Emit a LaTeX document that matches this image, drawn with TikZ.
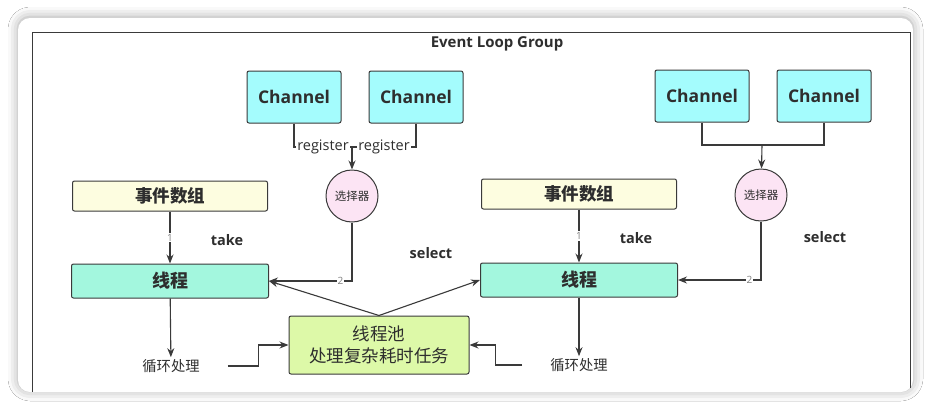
\documentclass[tikz,border=0pt]{standalone}
\usepackage{fontspec}
\setmainfont{Open Sans}
\newfontfamily\cjk{Noto Sans CJK SC}
\usepackage{tikz}
\usepackage{xcolor}
\usetikzlibrary{shapes.geometric}
\usetikzlibrary{positioning}
\usetikzlibrary{arrows.meta}
\usetikzlibrary{shadows.blur}
\definecolor{chancyan}{HTML}{A4FCFD}
\definecolor{arryellow}{HTML}{FDFDE0}
\definecolor{threadgreen}{HTML}{A3F7DE}
\definecolor{selpink}{HTML}{FCE4F4}
\definecolor{poolgreen}{HTML}{DDF9A8}
\definecolor{linegray}{HTML}{3A3A3A}
\definecolor{textgray}{HTML}{2E2E2E}
\tikzstyle{channel} = [rectangle, rounded corners=2pt, minimum width=94pt, minimum height=52pt, text centered, draw=linegray, line width=1pt, fill=chancyan, text=textgray, font=\fontsize{17.5}{20}\selectfont\bfseries]
\tikzstyle{events} = [rectangle, rounded corners=2pt, minimum width=195pt, minimum height=30pt, text centered, draw=linegray, line width=1pt, fill=arryellow, text=textgray, font=\fontsize{17.5}{20}\selectfont\cjk\bfseries]
\tikzstyle{thread} = [rectangle, rounded corners=2pt, minimum width=197pt, minimum height=34pt, text centered, draw=linegray, line width=1pt, fill=threadgreen, text=textgray, font=\fontsize{18}{21}\selectfont\cjk\bfseries]
\tikzstyle{selector} = [circle, minimum size=52pt, inner sep=0pt, draw=linegray, line width=1pt, fill=selpink, text=textgray, font=\fontsize{11.5}{13}\selectfont\cjk]
\tikzstyle{pool} = [rectangle, rounded corners=2pt, minimum width=180pt, minimum height=58pt, align=center, draw=linegray, line width=1pt, fill=poolgreen, text=textgray, font=\fontsize{17.5}{22}\selectfont\cjk]
\tikzstyle{label} = [text=textgray, font=\fontsize{14.5}{16}\selectfont\bfseries]
\tikzstyle{loop} = [inner sep=2pt, text=textgray, font=\fontsize{14.3}{16}\selectfont\cjk]
\tikzstyle{num} = [fill=white, inner sep=1pt, text=black!50, font=\fontsize{10}{11}\selectfont]
\tikzstyle{reg} = [pos=0.75, fill=white, inner sep=1pt, text=textgray, font=\fontsize{14.5}{16}\selectfont]
\tikzstyle{line} = [line width=1.1pt, draw=linegray]
\tikzstyle{arrow} = [line width=1.1pt, draw=linegray, ->, >={Stealth[length=9pt,width=7pt]}]

\begin{document}
\begin{tikzpicture}[x=1pt, y=-1pt]

        \useasboundingbox (0,0) rectangle (934,410);
        \fill[white] (0,0) rectangle (934,410);
        \fill[white, rounded corners=12pt, blur shadow={shadow xshift=0pt, shadow yshift=1pt, shadow blur radius=10pt, shadow opacity=35}] (18,18) rectangle (913,392);
        \draw[linegray, line width=1pt] (32,392) |- (910,32) -- (910,388);
        \node (title) at (497,44) [font=\fontsize{15}{17}\selectfont\bfseries, text=textgray] {Event Loop Group};

        % left group
        \node (ch1) at (294,97) [channel] {Channel};
        \node (ch2) at (416,97) [channel] {Channel};
        \coordinate (regjoin) at (352,147);
        \node (sel1) at (352,196) [selector] {选择器};
        \node (arr1) at (170,196) [events] {事件数组};
        \node (th1) at (170,281) [thread] {线程};
        \node (loop1) at (171,366) [loop] {循环处理};
        \node (take1) at (227,240) [label] {take};
        \node (select1) at (431,253) [label] {select};

        % right group
        \node (ch3) at (702,96) [channel] {Channel};
        \node (ch4) at (824,96) [channel] {Channel};
        \coordinate (selj2) at (762,145);
        \node (sel2) at (761,195) [selector] {选择器};
        \node (arr2) at (579,194) [events] {事件数组};
        \node (th2) at (579,280) [thread] {线程};
        \node (loop2) at (579,365) [loop] {循环处理};
        \node (take2) at (636,238) [label] {take};
        \node (select2) at (825,237) [label] {select};

        \node (pool) at (379,345) [pool] {线程池\\处理复杂耗时任务};

        \draw [line] (ch1.south) |- node[reg] {register} (regjoin);
        \draw [line] (ch2.south) |- node[reg] {register} (regjoin);
        \draw [arrow] (regjoin) -- (sel1);
        \draw [line] (ch3.south) |- (selj2);
        \draw [line] (ch4.south) |- (selj2);
        \draw [arrow] (selj2) -- (sel2);

        \draw [arrow] (arr1) -- node[num] {1} (th1);
        \draw [arrow] (arr2) -- node[num] {1} (th2);
        \draw [arrow] (sel1.south) |- node[num, pos=0.57] {2} (th1.east);
        \draw [arrow] (sel2.south) |- node[num, pos=0.57] {2} (th2.east);

        \draw [arrow] (pool.north) -- (th1.east);
        \draw [arrow] (pool.north) -- (th2.west);
        \draw [arrow] (th1) -- (loop1);
        \draw [arrow] (th2) -- (loop2);
        \draw [arrow] ([xshift=26pt]loop1.east) -- ++(31,0) |- (pool.west);
        \draw [arrow] ([xshift=-26pt]loop2.west) -- ++(-27,0) |- (pool.east);
    \end{tikzpicture}
\end{document}
